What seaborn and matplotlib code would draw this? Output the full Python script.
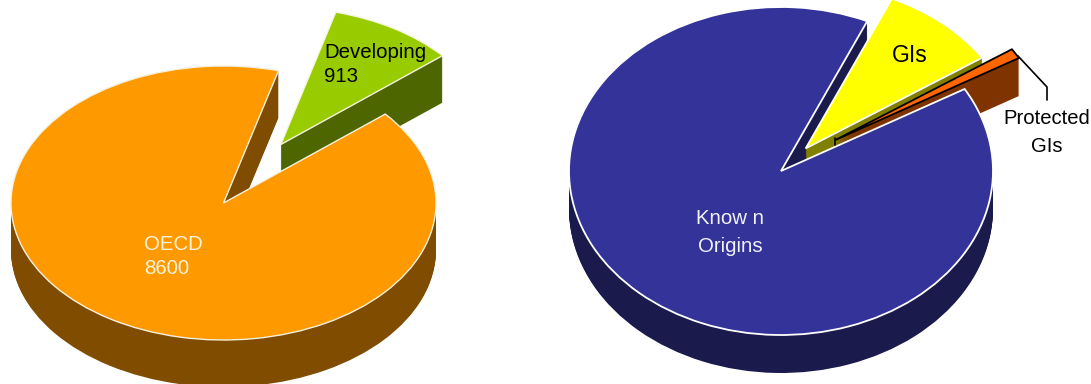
import numpy as np
import matplotlib
matplotlib.use("Agg")
import matplotlib.pyplot as plt
import seaborn as sns

sns.set_theme(style="white")
plt.rcParams["font.family"] = ["Liberation Sans", "DejaVu Sans"]

W, H = 1091, 384

# Publications by region
region_names = ["OECD", "Developing"]
region_values = [8600, 913]
region_top = ["#FF9900", "#99CC00"]
region_side = ["#804C00", "#4D6600"]
region_explode = [0, 0.505]

# Shares by origin type
origin_names = ["Know n\nOrigins", "Protected\nGIs", "GIs"]
origin_values = [9000, 100, 900]
origin_top = ["#333399", "#FF6600", "#FFFF00"]
origin_side = ["#1A1A4D", "#7F3300", "#808000"]
origin_explode = [0, 0.318, 0.18]

fig = plt.figure(figsize=(W / 100, H / 100), dpi=100, facecolor="white")


def pie_axes(x0, x1, cx, cy, rx, ry):
    """Axes spanning pixels x0..x1 in which the unit pie becomes a tilted ellipse."""
    ax = fig.add_axes([x0 / W, 0, (x1 - x0) / W, 1])
    limits = dict(xlim=((x0 - cx) / rx, (x1 - cx) / rx),
                  ylim=((cy - H) / ry, cy / ry))
    return ax, limits


def shift(wedge, offset):
    x, y = wedge.center
    wedge.set_center((x + offset[0], y + offset[1]))


def extruded_pie(ax, limits, values, top, side, explode, start, ry, depth,
                 side_z, top_z, edges, edge_width, offsets):
    for step in range(1, depth + 1):
        wedges, _ = ax.pie(values, colors=side, explode=explode, startangle=start,
                           center=(0, -step / ry), radius=1,
                           wedgeprops=dict(linewidth=0))
        for wedge, z, offset in zip(wedges, side_z, offsets):
            wedge.set_zorder(z)
            shift(wedge, offset)
    wedges, _ = ax.pie(values, colors=top, explode=explode, startangle=start,
                       center=(0, 0), radius=1,
                       wedgeprops=dict(linewidth=edge_width, edgecolor="white"))
    for wedge, z, edge, offset in zip(wedges, top_z, edges, offsets):
        wedge.set_zorder(z)
        wedge.set_edgecolor(edge)
        shift(wedge, offset)
    ax.set_aspect("auto")
    ax.set(**limits)
    ax.set_axis_off()


# Left pie
ax_l, lim_l = pie_axes(0, 500, 223.5, 203, 212.5, 137)
extruded_pie(ax_l, lim_l, region_values, region_top, region_side, region_explode,
             75, 137, 47, side_z=[3, 1], top_z=[4, 2], edges=["#F4F0E0", "#F4F4E0"],
             edge_width=1.0, offsets=[(0, 0), (0, 0)])

# Right pie; the thin slice sits slightly closer to the large one
ax_r, lim_r = pie_axes(540, W, 781, 171, 212, 164)
extruded_pie(ax_r, lim_r, origin_values, origin_top, origin_side, origin_explode,
             66, 164, 38, side_z=[1, 3, 2], top_z=[6, 5, 4],
             edges=["white", "black", "white"], edge_width=1.3,
             offsets=[(0, 0), (-3 / 212, 3.5 / 164), (0, 0)])


def px(x, y):
    return x / W, 1 - y / H


# Leader line and the front edge of the thin slice
fig.add_artist(plt.Line2D([1018 / W, 1047 / W, 1047 / W],
                          [1 - 56 / H, 1 - 87 / H, 1 - 100 / H],
                          color="black", lw=1.2, zorder=10))
fig.add_artist(plt.Line2D([834.5 / W, 834.5 / W], [1 - 138 / H, 1 - 145 / H],
                          color="black", lw=1.2, zorder=10))

fs = 14.7
fig.text(*px(144, 244), f"{region_names[0]}", color="#FBF3DC", fontsize=fs, va="center", ha="left", zorder=20)
fig.text(*px(144, 269), f"{region_values[0]}", color="#FBF3DC", fontsize=fs, va="center", ha="left", zorder=20)
fig.text(*px(324, 52), f"{region_names[1]}", color="black", fontsize=fs, va="center", ha="left", zorder=20)
fig.text(*px(324, 77), f"{region_values[1]}", color="black", fontsize=fs, va="center", ha="left", zorder=20)
fig.text(*px(730, 232), origin_names[0], color="#F2F2FA", fontsize=fs, va="center", ha="center",
         linespacing=1.6, zorder=20)
fig.text(*px(910, 55), origin_names[2], color="black", fontsize=16.6, va="center", ha="center", zorder=20)
fig.text(*px(1047, 132.5), origin_names[1], color="black", fontsize=14.6, va="center", ha="center",
         linespacing=1.6, zorder=20)

sns.despine(fig=fig, left=True, bottom=True)
fig.savefig("out.png", dpi=100)
